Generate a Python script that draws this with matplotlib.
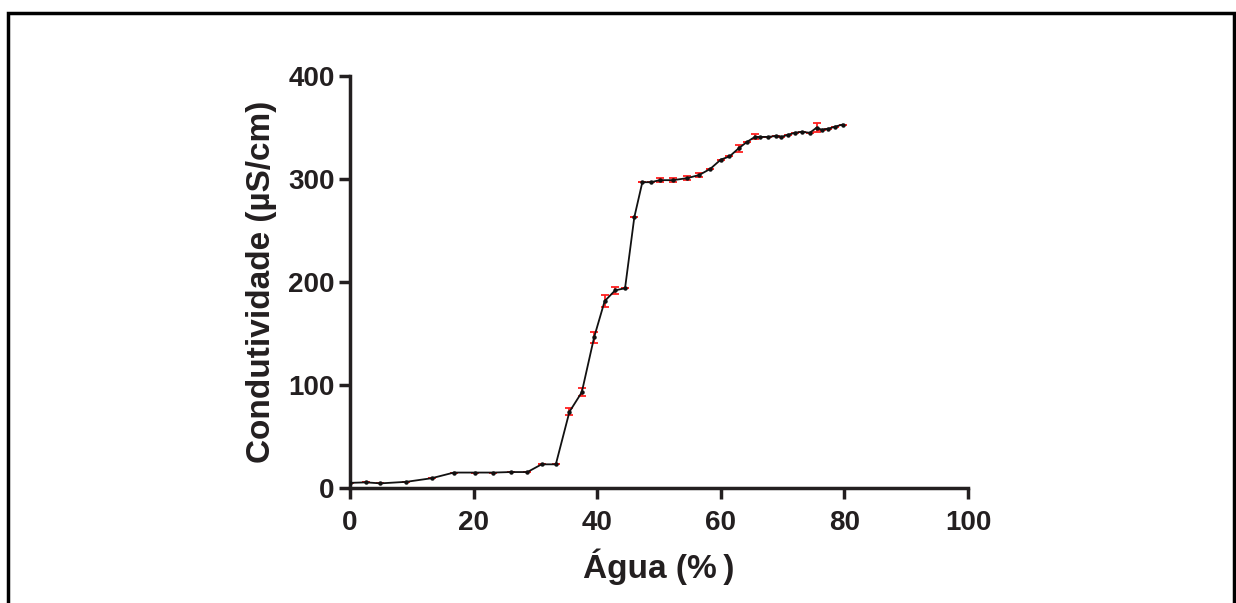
import matplotlib
matplotlib.use("Agg")
import matplotlib.pyplot as plt
from matplotlib.patches import Rectangle

plt.rcParams['font.family'] = ['Liberation Sans', 'DejaVu Sans']
plt.rcParams['font.weight'] = 'bold'

# water content (%) and conductivity (uS/cm)
agua = [0, 2.6, 4.9, 9.1, 13.2, 16.8, 20.2, 23.2, 26.0, 28.7, 31.0, 33.3,
        35.5, 37.5, 39.5, 41.2, 42.9, 44.5, 46.0, 47.3, 48.7, 50.1, 52.3,
        54.6, 56.5, 58.3, 60.0, 61.4, 62.9, 64.2, 65.5, 66.4, 67.7, 69.0,
        69.8, 70.8, 72.0, 73.1, 74.4, 75.5, 76.3, 77.4, 78.5, 79.7]
condutividade = [5, 5.5, 4.5, 6, 9.5, 15, 15, 15, 15.5, 15.5, 23, 23,
                 74, 93, 146.5, 181.5, 192, 194, 263, 297, 297, 299, 299,
                 301, 304, 310, 319, 322, 330, 336, 341, 341, 341, 342,
                 341, 343, 345, 346, 345, 350, 348, 349, 351, 353]
erro = [0, 0, 0, 0, 0, 0, 0, 0, 0, 0, 0, 0,
        3.3, 3.7, 5.5, 5.7, 3.2, 0, 0, 0, 0, 2, 2,
        2, 2, 0, 0, 0, 3.5, 0, 2.5, 0, 0, 0,
        0, 0, 0, 0, 0, 4.5, 0, 0, 0, 0]

fig = plt.figure(figsize=(12.36, 6.03), dpi=100)
fig.patches.append(Rectangle((8 / 1236, -0.05), 1226 / 1236, 1.05 - 13 / 603,
                             transform=fig.transFigure, fill=False,
                             edgecolor='black', linewidth=2.5))

ax = fig.add_axes([0.2832, 0.1907, 0.5, 0.683])
ax.errorbar(agua, condutividade, yerr=erro, fmt='none', ecolor='#ff2020',
            elinewidth=1.3, capsize=3, capthick=1.3, zorder=2)
ax.plot(agua, condutividade, '-', color='#111111', lw=1.3,
        marker='o', markersize=2.2, zorder=3)

ax.set_xlim(0, 100)
ax.set_ylim(0, 400)
ax.set_xticks([0, 20, 40, 60, 80, 100])
ax.set_yticks([0, 100, 200, 300, 400])
for s in ['top', 'right']:
    ax.spines[s].set_visible(False)
for s in ['left', 'bottom']:
    ax.spines[s].set_linewidth(2.5)
    ax.spines[s].set_color('#231f20')
ax.tick_params(direction='out', length=8, width=2.5, color='#231f20',
               labelsize=20, labelcolor='#231f20')
ax.tick_params(axis='x', pad=8)
ax.tick_params(axis='y', pad=3)
for lab in ax.get_xticklabels() + ax.get_yticklabels():
    lab.set_fontweight('bold')

ax.set_xlabel('Água (%\u2009)', fontsize=24, fontweight='bold',
              color='#231f20', labelpad=9)
ax.set_ylabel('Condutividade (µS/cm)', fontsize=24, fontweight='bold',
              color='#231f20', labelpad=8)

fig.savefig('out.png', dpi=100)
